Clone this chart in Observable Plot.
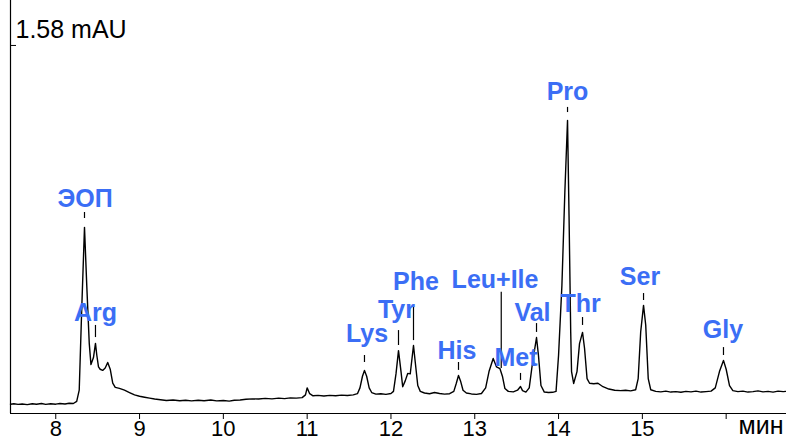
<!DOCTYPE html>
<html>
<head>
<meta charset="utf-8">
<script src="https://cdn.jsdelivr.net/npm/d3@7"></script>
<script src="https://cdn.jsdelivr.net/npm/@observablehq/plot@0.6"></script>
<style>
  html, body { margin: 0; padding: 0; background: #fff; }
  #chart svg { display: block; }
</style>
</head>
<body>
<div id="chart"></div>
<script>
// Retention time (min) and detector signal (mAU)
const times = [
  7.46, 7.50, 7.55, 7.60, 7.66, 7.72, 7.77, 7.83, 7.88, 7.94, 8.00, 8.05, 8.11, 8.16, 8.21,
  8.25, 8.28, 8.31, 8.343, 8.37, 8.40, 8.42, 8.45, 8.474, 8.49, 8.51, 8.53, 8.56, 8.59, 8.62,
  8.65, 8.68, 8.71, 8.76, 8.82, 8.88, 8.94, 9.00, 9.06, 9.12, 9.18,
  9.25, 9.32, 9.40, 9.48, 9.55, 9.62, 9.70, 9.77, 9.85, 9.92, 10.00, 10.07, 10.13, 10.20,
  10.27, 10.35, 10.42, 10.50, 10.58, 10.66, 10.73, 10.80, 10.87, 10.94, 10.98, 11.00, 11.03,
  11.07, 11.13, 11.20, 11.27, 11.34, 11.41, 11.48, 11.55, 11.60, 11.63, 11.66, 11.684, 11.71,
  11.74, 11.77, 11.82, 11.88, 11.94, 12.00, 12.03, 12.06, 12.09, 12.12, 12.14, 12.17, 12.20,
  12.23, 12.269, 12.29, 12.32, 12.35, 12.40, 12.46, 12.52, 12.58, 12.64, 12.70, 12.75, 12.78,
  12.806, 12.83, 12.86, 12.90, 12.96, 13.02, 13.08, 13.13, 13.17, 13.22, 13.26, 13.30, 13.33,
  13.36, 13.40, 13.46, 13.51, 13.546, 13.57, 13.61, 13.65, 13.69, 13.737, 13.76, 13.79, 13.83,
  13.88, 13.93, 13.97, 14.00, 14.04, 14.075, 14.107, 14.125, 14.145, 14.155, 14.18, 14.22,
  14.25, 14.286, 14.31, 14.34, 14.37, 14.42, 14.47, 14.53, 14.60, 14.67, 14.74, 14.80, 14.86,
  14.92, 14.95, 14.98, 15.014, 15.04, 15.07, 15.10, 15.16, 15.22, 15.28, 15.34, 15.40, 15.46,
  15.52, 15.58, 15.64, 15.70, 15.76, 15.82, 15.87, 15.92, 15.968, 16.00, 16.04, 16.08, 16.14,
  16.20, 16.26, 16.32, 16.38, 16.44, 16.50, 16.56, 16.62, 16.68, 16.72
];
const signal = [
  0.040, 0.042, 0.039, 0.041, 0.038, 0.042, 0.040, 0.043, 0.039, 0.042, 0.040, 0.043, 0.041, 0.044, 0.043,
  0.052, 0.100, 0.450, 0.799, 0.550, 0.300, 0.210, 0.240, 0.301, 0.250, 0.200, 0.190, 0.185, 0.195, 0.219,
  0.190, 0.130, 0.112, 0.108, 0.100, 0.090, 0.080, 0.074, 0.070, 0.066, 0.062,
  0.059, 0.056, 0.058, 0.055, 0.057, 0.054, 0.057, 0.055, 0.058, 0.054, 0.056, 0.053, 0.057, 0.058,
  0.061, 0.063, 0.062, 0.065, 0.063, 0.066, 0.064, 0.067, 0.066, 0.068, 0.080, 0.110, 0.085,
  0.076, 0.078, 0.075, 0.078, 0.076, 0.079, 0.077, 0.080, 0.085, 0.110, 0.160, 0.185, 0.160,
  0.110, 0.090, 0.083, 0.085, 0.082, 0.086, 0.095, 0.170, 0.270, 0.180, 0.115, 0.140, 0.172,
  0.170, 0.292, 0.220, 0.120, 0.095, 0.088, 0.085, 0.090, 0.086, 0.083, 0.085, 0.095, 0.130,
  0.163, 0.140, 0.100, 0.088, 0.084, 0.082, 0.086, 0.110, 0.180, 0.236, 0.200, 0.193, 0.160,
  0.107, 0.095, 0.093, 0.100, 0.116, 0.098, 0.092, 0.110, 0.220, 0.326, 0.250, 0.120, 0.092,
  0.090, 0.091, 0.095, 0.250, 0.550, 0.950, 1.258, 0.850, 0.350, 0.180, 0.129, 0.180,
  0.300, 0.348, 0.280, 0.150, 0.130, 0.128, 0.130, 0.115, 0.105, 0.100, 0.098, 0.100, 0.097,
  0.102, 0.150, 0.350, 0.464, 0.380, 0.150, 0.102, 0.095, 0.093, 0.096, 0.092, 0.094, 0.091,
  0.095, 0.093, 0.096, 0.092, 0.094, 0.096, 0.110, 0.180, 0.228, 0.190, 0.120, 0.098, 0.094,
  0.096, 0.092, 0.094, 0.097, 0.093, 0.095, 0.092, 0.096, 0.094, 0.095
];

// Peak labels
const peakNames   = ["ЭОП", "Arg", "Lys", "Tyr", "Phe", "His", "Leu+Ile", "Met", "Val", "Pro", "Thr", "Ser", "Gly"];
const labelTimes  = [8.349, 8.474, 11.714, 12.066, 12.299, 12.788, 13.242, 13.492, 13.689, 14.107, 14.262, 14.972, 15.962];
const labelLevels = [0.885, 0.399, 0.305, 0.412, 0.532, 0.236, 0.537, 0.202, 0.399, 1.344, 0.434, 0.550, 0.322];
const markTimes   = [8.343, 8.474, 11.684, 12.090, 12.269, 12.806, 13.316, 13.546, 13.737, 14.107, 14.286, 15.014, 15.968];
const markTops    = [0.863, 0.378, 0.249, 0.356, 0.455, 0.219, 0.520, 0.172, 0.386, 1.314, 0.412, 0.515, 0.283];
const markBottoms = [0.837, 0.326, 0.219, 0.292, 0.313, 0.185, 0.193, 0.142, 0.348, 1.292, 0.378, 0.485, 0.249];

// Axis
const xTicks = [8, 9, 10, 11, 12, 13, 14, 15, 16];
const xTickLabels = ["8", "9", "10", "11", "12", "13", "14", "15", ""];
const yMarkValue = 1.58;
const yMarkLabel = "1.58 mAU";
const xUnit = "мин";

const trace = times.map((t, i) => ({t, v: signal[i]}));
const labels = peakNames.map((name, i) => ({name, t: labelTimes[i], v: labelLevels[i]}));
const marks = markTimes.map((t, i) => ({t, top: markTops[i], bottom: markBottoms[i]}));

const blue = "#3b6ef5";
const xMin = 7.46, xMax = 16.72;

const chart = Plot.plot({
  width: 786,
  height: 441,
  marginLeft: 10,
  marginRight: 0,
  marginTop: 0,
  marginBottom: 28,
  x: {domain: [xMin, xMax]},
  y: {domain: [0, 1.773]},
  style: {fontFamily: "'Liberation Sans', Arial, sans-serif", background: "#fff", color: "#000"},
  marks: [
    Plot.ruleY([0], {stroke: "#000", strokeWidth: 1.2}),
    Plot.ruleX([xMin], {stroke: "#000", strokeWidth: 1.2}),
    Plot.axisX({
      ticks: xTicks,
      tickSize: 6,
      tickPadding: 1,
      fontSize: 22,
      tickFormat: (d) => xTickLabels[xTicks.indexOf(d)],
      label: null,
      stroke: "#000",
      color: "#000"
    }),
    Plot.axisY({ticks: [yMarkValue], tickSize: 6, dx: 6, tickFormat: () => "", label: null}),
    Plot.text([yMarkLabel], {frameAnchor: "top-left", dx: 5, dy: 37, textAnchor: "start", lineAnchor: "bottom", fontSize: 25, fill: "#000"}),
    Plot.text([xUnit], {frameAnchor: "bottom-right", dx: -3, dy: 20, textAnchor: "end", lineAnchor: "bottom", fontSize: 25, fill: "#000"}),
    Plot.line(trace, {x: "t", y: "v", stroke: "#000", strokeWidth: 1.4, strokeLinejoin: "round"}),
    Plot.ruleX(marks, {x: "t", y1: "bottom", y2: "top", stroke: "#000", strokeWidth: 1.2}),
    Plot.text(labels, {x: "t", y: "v", text: "name", textAnchor: "middle", lineAnchor: "bottom", fontSize: 25, fontWeight: "bold", fill: blue})
  ]
});
document.getElementById("chart").appendChild(chart);
</script>
</body>
</html>
